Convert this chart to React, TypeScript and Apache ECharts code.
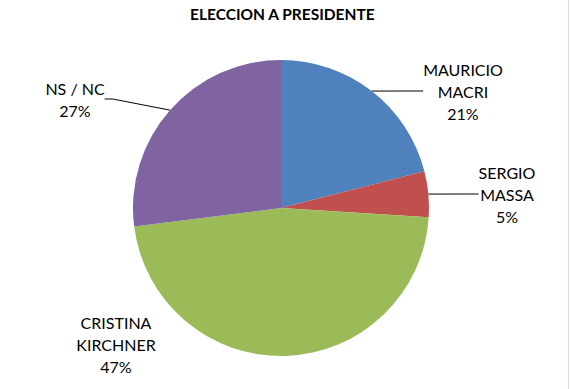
import React, { useEffect, useRef } from "react";
import * as echarts from "echarts";

const titleText = "ELECCION A PRESIDENTE";
const categories = ["MAURICIO\nMACRI", "SERGIO\nMASSA", "CRISTINA\nKIRCHNER", "NS / NC"];
const values = [21, 5, 47, 27];
const colors = ["#4F81BD", "#C0504D", "#9BBB59", "#8064A2"];

// label block centres (layout only)
const labelCenters = [
  [463, 91],
  [507, 194],
  [116, 344],
  [75, 99],
];
const showLines = [true, true, false, true];

export default function App() {
  const ref = useRef<HTMLDivElement>(null);
  useEffect(() => {
    if (!ref.current) return;
    const chart = echarts.init(ref.current, null, { renderer: "svg" });
    chart.setOption({
      animation: false,
      backgroundColor: "#ffffff",
      title: {
        text: titleText,
        left: 185,
        top: 1,
        textStyle: {
          fontFamily: "Lato",
          fontWeight: "bold",
          fontSize: 15.5,
          color: "#000000",
        },
      },
      graphic: [
        {
          type: "line",
          shape: { x1: 568.5, y1: 0, x2: 568.5, y2: 389 },
          style: { stroke: "#D3DCE6", lineWidth: 1 },
        },
      ],
      series: [
        {
          type: "pie",
          center: [281, 208],
          radius: 148,
          startAngle: 90,
          clockwise: true,
          avoidLabelOverlap: false,
          data: categories.map((name, i) => ({
            name,
            value: values[i],
            itemStyle: { color: colors[i] },
            labelLine: { show: showLines[i] },
          })),
          label: {
            show: true,
            formatter: (p: any) => `${p.name}\n${p.percent.toFixed(0)}%`,
            fontFamily: "Lato",
            fontSize: 16,
            lineHeight: 22,
            color: "#000000",
            align: "center",
          },
          labelLine: {
            show: true,
            length: 10,
            length2: 8,
            smooth: false,
            lineStyle: { color: "#000000", width: 1 },
          },
          labelLayout: (params: any) => {
            const c = labelCenters[params.dataIndex];
            return {
              x: c[0],
              y: c[1],
              align: "center",
              verticalAlign: "middle",
            };
          },
          emphasis: { disabled: true },
        },
      ],
    });
    return () => chart.dispose();
  }, []);
  return (
    <div
      ref={ref}
      style={{ position: "absolute", left: 0, top: 0, width: 571, height: 389 }}
    />
  );
}
